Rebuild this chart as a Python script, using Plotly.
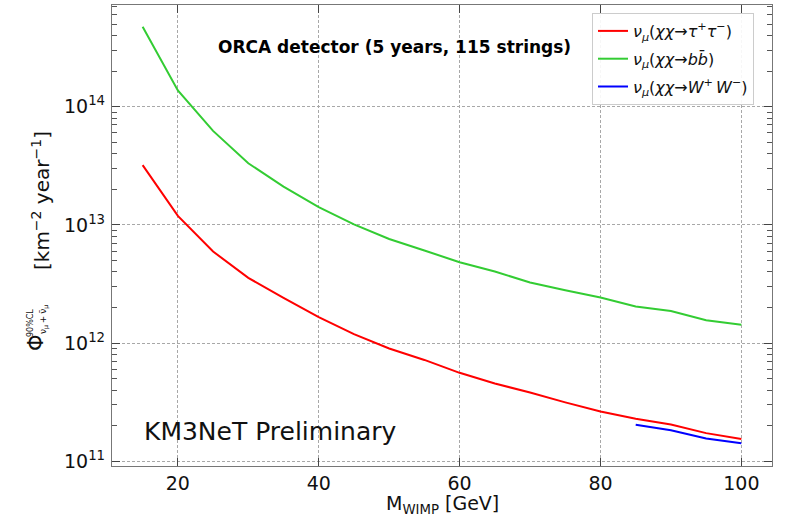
import plotly.graph_objects as go

# WIMP masses [GeV]
mass = [15, 20, 25, 30, 35, 40, 45, 50, 55, 60, 65, 70, 75, 80, 85, 90, 95, 100]
mass_ww = [85, 90, 95, 100]

# 90% CL upper limits on the nu_mu + anti-nu_mu flux [km^-2 year^-1]
flux_tautau = [3.2e13, 1.19e13, 5.95e12, 3.56e12, 2.41e12, 1.66e12, 1.19e12, 9.0e11,
               7.2e11, 5.6e11, 4.55e11, 3.82e11, 3.15e11, 2.64e11, 2.29e11, 2.05e11,
               1.73e11, 1.54e11]
flux_bb = [4.74e14, 1.37e14, 6.24e13, 3.32e13, 2.11e13, 1.41e13, 1.01e13, 7.6e12,
           6.07e12, 4.83e12, 4.03e12, 3.25e12, 2.8e12, 2.43e12, 2.04e12, 1.87e12,
           1.56e12, 1.43e12]
flux_ww = [2.04e11, 1.83e11, 1.56e11, 1.42e11]

y_ticks = [1e11, 1e12, 1e13, 1e14]
y_ticktext = ["10<sup>11</sup>", "10<sup>12</sup>", "10<sup>13</sup>", "10<sup>14</sup>"]
x_ticks = [20, 40, 60, 80, 100]
# log-scale minor ticks (2..9 in every decade)
y_minor = [m * d for d in (1e11, 1e12, 1e13, 1e14) for m in range(2, 10)]

FONT = "DejaVu Sans"
W, H = 789, 518
ML, MR, MT, MB = 112, 17, 5, 52
PW, PH = W - ML - MR, H - MT - MB


def px(x_pixel):
    return (x_pixel - ML) / PW


def py(y_pixel):
    return (H - MB - y_pixel) / PH


fig = go.Figure()
fig.add_trace(go.Scatter(
    x=mass, y=flux_tautau, mode="lines", line=dict(color="#ff0000", width=2),
    legendgroup="tautau",
    name="<i>ν</i><sub><i>μ</i></sub>(<i>χχ</i>→<i>τ</i><sup>+</sup><i>τ</i><sup>−</sup>)"))
fig.add_trace(go.Scatter(
    x=mass, y=flux_bb, mode="lines", line=dict(color="#33cc33", width=2),
    legendgroup="bb",
    name="<i>ν</i><sub><i>μ</i></sub>(<i>χχ</i>→<i>b</i><i>b̄</i>)"))
fig.add_trace(go.Scatter(
    x=mass_ww, y=flux_ww, mode="lines", line=dict(color="#0000ff", width=2),
    legendgroup="ww",
    name="<i>ν</i><sub><i>μ</i></sub>(<i>χχ</i>→<i>W</i><sup>+</sup>\u2009<i>W</i><sup>−</sup>)"))

axis_common = dict(
    showline=True, linecolor="#777777", linewidth=1.3, mirror="allticks",
    ticks="inside", ticklen=8, tickwidth=1.2, tickcolor="#444444",
    showgrid=True, gridcolor="#a8a8a8", gridwidth=0.8, griddash="3px,2px",
    zeroline=False, tickfont=dict(family=FONT, size=19, color="#111111"),
)

fig.update_xaxes(range=[10.65, 104.35], tickvals=x_ticks, **axis_common)
fig.update_yaxes(
    type="log", range=[10.96, 14.86], tickvals=y_ticks, ticktext=y_ticktext,
    minor=dict(tickvals=y_minor, ticks="inside", ticklen=4.5, tickcolor="#555555",
               tickwidth=1, showgrid=False),
    ticklabelstandoff=2, **axis_common,
)

# x-axis label
fig.add_annotation(
    text="M<sub>WIMP</sub> [GeV]", x=0.5, y=py(504), xref="paper", yref="paper",
    xanchor="center", yanchor="middle", showarrow=False,
    font=dict(family=FONT, size=19, color="#111111"),
)

# y-axis label assembled from rotated pieces
ylabel_parts = [
    ("Φ", 36, 343, 21),
    ("90%CL", 30, 323, 8),
    ("ν<sub>μ</sub>\u2009+\u2009ν̄<sub>μ</sub>", 44, 320, 9),
    ("[km<sup>−2</sup> year<sup>−1</sup>]", 41, 201, 20),
]
for text, xp, yp, size in ylabel_parts:
    fig.add_annotation(
        text=text, x=px(xp), y=py(yp), xref="paper", yref="paper",
        xanchor="center", yanchor="middle", textangle=-90, showarrow=False,
        font=dict(family=FONT, size=size, color="#111111"),
    )

fig.add_annotation(
    text="<b>ORCA detector (5 years, 115 strings)</b>", x=px(394), y=py(47),
    xref="paper", yref="paper", xanchor="center", yanchor="middle", showarrow=False,
    font=dict(family=FONT, size=17, color="#000000"),
)
fig.add_annotation(
    text="KM3NeT Preliminary", x=px(142), y=py(431),
    xref="paper", yref="paper", xanchor="left", yanchor="middle", showarrow=False,
    font=dict(family=FONT, size=25, color="#111111"),
)

fig.update_layout(
    width=W, height=H,
    margin=dict(l=ML, r=MR, t=MT, b=MB, autoexpand=False),
    paper_bgcolor="white", plot_bgcolor="white",
    font=dict(family=FONT, size=15, color="#111111"),
    legend=dict(
        x=px(592), y=py(13), xanchor="left", yanchor="top",
        bgcolor="rgba(255,255,255,0.9)", bordercolor="#cccccc", borderwidth=1,
        font=dict(family=FONT, size=16), tracegroupgap=4,
    ),
    showlegend=True,
)

fig.write_html("out.html")
